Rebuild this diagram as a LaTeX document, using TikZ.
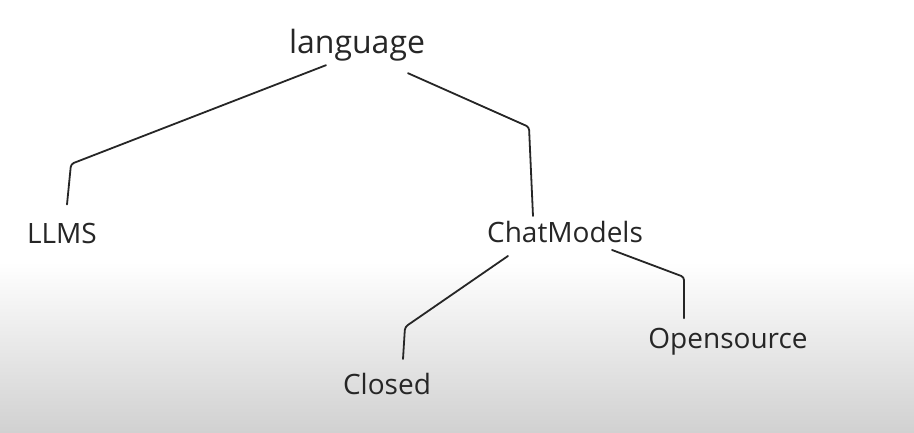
\documentclass[tikz,border=0pt]{standalone}
\usepackage{fontspec}
\setmainfont{Open Sans}
\usepackage{tikz}
\usepackage{xcolor}
\tikzset{
    tree-word/.style = {inner sep=2pt, text=black!85, font=\fontsize{28}{34}\selectfont},
    tree-branch/.style = {draw=black!85, line width=1.8pt, line cap=round, line join=round, rounded corners=3pt},
}

\begin{document}
\begin{tikzpicture}[x=1pt, y=1pt]
% board
\useasboundingbox (0,0) rectangle (914,432);
\fill[white] (0,170) rectangle (914,432);
\shade[top color=white, bottom color=black!18] (0,0) rectangle (914,170);
% words
\node[tree-word, font=\fontsize{32}{38}\selectfont] (language) at (357,387) {language};
\node[tree-word] (llms) at (62,199) {LLMS};
\node[tree-word] (chat) at (565,200) {ChatModels};
\node[tree-word] (closed) at (387,48) {Closed};
\node[tree-word] (open) at (728,90) {Opensource};
% branches
\coordinate (llms-bend) at (71,268);
\coordinate (chat-bend) at (529,305);
\coordinate (closed-bend) at (405,105);
\coordinate (open-bend) at (684,155);
\draw[tree-branch] ([xshift=-31pt, yshift=-2pt]language.south) -- (llms-bend) -- ([xshift=5pt, yshift=16pt]llms.north);
\draw[tree-branch] ([xshift=51pt, yshift=-10pt]language.south) -- (chat-bend) -- ([xshift=-32pt, yshift=3pt]chat.north);
\draw[tree-branch] ([xshift=-57pt, yshift=-11pt]chat.south) -- (closed-bend) -- ([xshift=16pt, yshift=12pt]closed.north);
\draw[tree-branch] ([xshift=47pt, yshift=-5pt]chat.south) -- (open-bend) -- ([xshift=-44pt, yshift=8pt]open.north);
\end{tikzpicture}
\end{document}
